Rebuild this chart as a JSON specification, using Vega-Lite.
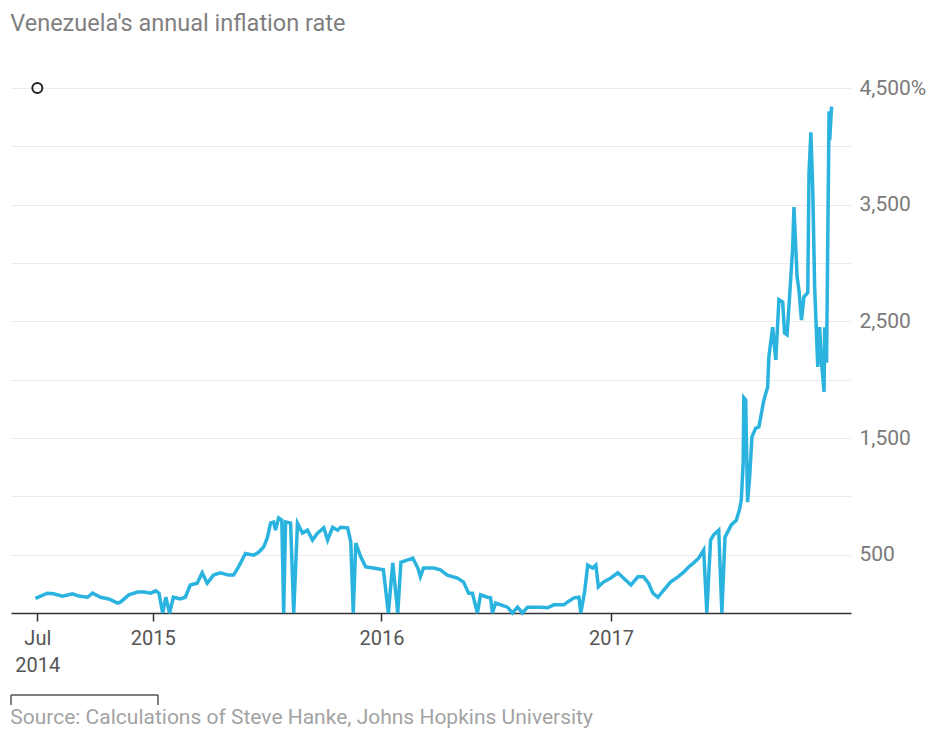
{
  "$schema": "https://vega.github.io/schema/vega-lite/v6.json",
  "background": "white",
  "padding": {"left": 10, "top": 11, "right": 5, "bottom": 0},
  "title": {
    "text": "Venezuela's annual inflation rate",
    "anchor": "start",
    "font": "Roboto",
    "fontSize": 23.5,
    "fontWeight": "normal",
    "color": "#7f7f7f",
    "offset": 42
  },
  "config": {"view": {"stroke": null}, "font": "Roboto"},
  "spacing": 19,
  "vconcat": [
    {
      "width": 840,
      "height": 525,
      "data": {
        "values": [
          {"date": "2014-06-28", "rate": 125},
          {"date": "2014-07-17", "rate": 170},
          {"date": "2014-07-27", "rate": 165},
          {"date": "2014-08-10", "rate": 145},
          {"date": "2014-08-26", "rate": 165},
          {"date": "2014-09-05", "rate": 145},
          {"date": "2014-09-19", "rate": 135},
          {"date": "2014-09-27", "rate": 170},
          {"date": "2014-10-10", "rate": 135},
          {"date": "2014-10-23", "rate": 120},
          {"date": "2014-11-06", "rate": 85},
          {"date": "2014-11-11", "rate": 95},
          {"date": "2014-11-24", "rate": 155},
          {"date": "2014-12-08", "rate": 180},
          {"date": "2014-12-18", "rate": 180},
          {"date": "2014-12-29", "rate": 170},
          {"date": "2015-01-06", "rate": 190},
          {"date": "2015-01-11", "rate": 170},
          {"date": "2015-01-17", "rate": 0},
          {"date": "2015-01-22", "rate": 135},
          {"date": "2015-01-28", "rate": 0},
          {"date": "2015-02-03", "rate": 135},
          {"date": "2015-02-14", "rate": 120},
          {"date": "2015-02-22", "rate": 135},
          {"date": "2015-03-02", "rate": 240},
          {"date": "2015-03-13", "rate": 255},
          {"date": "2015-03-21", "rate": 345},
          {"date": "2015-03-29", "rate": 255},
          {"date": "2015-04-08", "rate": 325},
          {"date": "2015-04-19", "rate": 345},
          {"date": "2015-05-02", "rate": 325},
          {"date": "2015-05-10", "rate": 325},
          {"date": "2015-05-18", "rate": 395},
          {"date": "2015-05-29", "rate": 510},
          {"date": "2015-06-11", "rate": 495},
          {"date": "2015-06-19", "rate": 520},
          {"date": "2015-06-27", "rate": 565},
          {"date": "2015-07-03", "rate": 645},
          {"date": "2015-07-08", "rate": 770},
          {"date": "2015-07-13", "rate": 780},
          {"date": "2015-07-16", "rate": 710},
          {"date": "2015-07-21", "rate": 815},
          {"date": "2015-07-26", "rate": 795},
          {"date": "2015-07-29", "rate": 0},
          {"date": "2015-08-01", "rate": 780},
          {"date": "2015-08-09", "rate": 770},
          {"date": "2015-08-14", "rate": 0},
          {"date": "2015-08-20", "rate": 770},
          {"date": "2015-08-28", "rate": 685},
          {"date": "2015-09-05", "rate": 710},
          {"date": "2015-09-13", "rate": 625},
          {"date": "2015-09-21", "rate": 685},
          {"date": "2015-10-01", "rate": 730},
          {"date": "2015-10-07", "rate": 625},
          {"date": "2015-10-15", "rate": 735},
          {"date": "2015-10-23", "rate": 710},
          {"date": "2015-10-28", "rate": 735},
          {"date": "2015-11-08", "rate": 730},
          {"date": "2015-11-13", "rate": 610},
          {"date": "2015-11-17", "rate": 0},
          {"date": "2015-11-21", "rate": 600},
          {"date": "2015-11-29", "rate": 480},
          {"date": "2015-12-07", "rate": 395},
          {"date": "2015-12-19", "rate": 385},
          {"date": "2016-01-04", "rate": 370},
          {"date": "2016-01-12", "rate": 0},
          {"date": "2016-01-19", "rate": 430},
          {"date": "2016-01-27", "rate": 0},
          {"date": "2016-02-01", "rate": 435},
          {"date": "2016-02-20", "rate": 470},
          {"date": "2016-02-28", "rate": 385},
          {"date": "2016-03-03", "rate": 310},
          {"date": "2016-03-08", "rate": 385},
          {"date": "2016-03-24", "rate": 385},
          {"date": "2016-04-04", "rate": 370},
          {"date": "2016-04-15", "rate": 325},
          {"date": "2016-05-01", "rate": 300},
          {"date": "2016-05-11", "rate": 265},
          {"date": "2016-05-19", "rate": 170},
          {"date": "2016-05-25", "rate": 170},
          {"date": "2016-06-02", "rate": 0},
          {"date": "2016-06-07", "rate": 155},
          {"date": "2016-06-18", "rate": 135},
          {"date": "2016-06-23", "rate": 130},
          {"date": "2016-06-26", "rate": 0},
          {"date": "2016-07-01", "rate": 85},
          {"date": "2016-07-20", "rate": 50},
          {"date": "2016-07-28", "rate": 0},
          {"date": "2016-08-05", "rate": 50},
          {"date": "2016-08-13", "rate": 0},
          {"date": "2016-08-21", "rate": 50},
          {"date": "2016-09-11", "rate": 50},
          {"date": "2016-09-22", "rate": 45},
          {"date": "2016-10-02", "rate": 70},
          {"date": "2016-10-18", "rate": 70},
          {"date": "2016-10-24", "rate": 95},
          {"date": "2016-11-03", "rate": 130},
          {"date": "2016-11-11", "rate": 135},
          {"date": "2016-11-14", "rate": 0},
          {"date": "2016-11-20", "rate": 180},
          {"date": "2016-11-25", "rate": 410},
          {"date": "2016-12-03", "rate": 385},
          {"date": "2016-12-08", "rate": 410},
          {"date": "2016-12-12", "rate": 225},
          {"date": "2016-12-20", "rate": 265},
          {"date": "2017-01-01", "rate": 300},
          {"date": "2017-01-12", "rate": 345},
          {"date": "2017-01-21", "rate": 300},
          {"date": "2017-02-02", "rate": 240},
          {"date": "2017-02-13", "rate": 310},
          {"date": "2017-02-22", "rate": 310},
          {"date": "2017-03-02", "rate": 255},
          {"date": "2017-03-09", "rate": 170},
          {"date": "2017-03-17", "rate": 135},
          {"date": "2017-03-26", "rate": 195},
          {"date": "2017-04-06", "rate": 265},
          {"date": "2017-04-18", "rate": 310},
          {"date": "2017-04-27", "rate": 350},
          {"date": "2017-05-05", "rate": 395},
          {"date": "2017-05-13", "rate": 430},
          {"date": "2017-05-21", "rate": 470},
          {"date": "2017-05-29", "rate": 540},
          {"date": "2017-06-03", "rate": 0},
          {"date": "2017-06-09", "rate": 625},
          {"date": "2017-06-14", "rate": 670},
          {"date": "2017-06-22", "rate": 710},
          {"date": "2017-06-27", "rate": 0},
          {"date": "2017-07-02", "rate": 650},
          {"date": "2017-07-12", "rate": 755},
          {"date": "2017-07-20", "rate": 795},
          {"date": "2017-07-25", "rate": 885},
          {"date": "2017-07-28", "rate": 970},
          {"date": "2017-07-31", "rate": 1285},
          {"date": "2017-08-01", "rate": 1845},
          {"date": "2017-08-04", "rate": 1825},
          {"date": "2017-08-07", "rate": 950},
          {"date": "2017-08-10", "rate": 1140},
          {"date": "2017-08-14", "rate": 1510},
          {"date": "2017-08-20", "rate": 1585},
          {"date": "2017-08-25", "rate": 1595},
          {"date": "2017-08-28", "rate": 1680},
          {"date": "2017-09-02", "rate": 1825},
          {"date": "2017-09-08", "rate": 1935},
          {"date": "2017-09-10", "rate": 2195},
          {"date": "2017-09-16", "rate": 2450},
          {"date": "2017-09-21", "rate": 2170},
          {"date": "2017-09-26", "rate": 2685},
          {"date": "2017-10-02", "rate": 2665},
          {"date": "2017-10-05", "rate": 2400},
          {"date": "2017-10-09", "rate": 2385},
          {"date": "2017-10-12", "rate": 2625},
          {"date": "2017-10-18", "rate": 3135},
          {"date": "2017-10-20", "rate": 3480},
          {"date": "2017-10-25", "rate": 2880},
          {"date": "2017-10-28", "rate": 2770},
          {"date": "2017-11-01", "rate": 2510},
          {"date": "2017-11-05", "rate": 2710},
          {"date": "2017-11-11", "rate": 2745},
          {"date": "2017-11-13", "rate": 3770},
          {"date": "2017-11-16", "rate": 4120},
          {"date": "2017-11-19", "rate": 3625},
          {"date": "2017-11-22", "rate": 2795},
          {"date": "2017-11-27", "rate": 2110},
          {"date": "2017-11-30", "rate": 2450},
          {"date": "2017-12-03", "rate": 2145},
          {"date": "2017-12-07", "rate": 1895},
          {"date": "2017-12-08", "rate": 2450},
          {"date": "2017-12-11", "rate": 2145},
          {"date": "2017-12-15", "rate": 4300},
          {"date": "2017-12-16", "rate": 4050},
          {"date": "2017-12-19", "rate": 4340}
        ]
      },
      "layer": [
        {
          "mark": {"type": "line", "color": "#2bb3e0", "strokeWidth": 3.5},
          "encoding": {
            "x": {
              "field": "date",
              "type": "temporal",
              "scale": {
                "domain": [
                  {"year": 2014, "month": 5, "date": 20},
                  {"year": 2018, "month": 1, "date": 19}
                ]
              },
              "axis": {
                "title": null,
                "grid": false,
                "values": [
                  {"year": 2014, "month": 7, "date": 1},
                  {"year": 2015, "month": 1, "date": 1},
                  {"year": 2016, "month": 1, "date": 1},
                  {"year": 2017, "month": 1, "date": 1}
                ],
                "labelExpr": "month(datum.value) == 6 ? ['Jul', '2014'] : timeFormat(datum.value, '%Y')",
                "domainColor": "#333333",
                "domainWidth": 1.5,
                "tickColor": "#333333",
                "tickWidth": 1.5,
                "tickSize": 8,
                "labelFont": "Roboto",
                "labelFontSize": 20,
                "labelColor": "#555555",
                "labelPadding": 7,
                "labelLineHeight": 27,
                "labelFlush": false,
                "labelOverlap": false
              }
            },
            "y": {
              "field": "rate",
              "type": "quantitative",
              "scale": {"domain": [0, 4500], "nice": false},
              "axis": {
                "orient": "right",
                "title": null,
                "values": [0, 500, 1000, 1500, 2000, 2500, 3000, 3500, 4000, 4500],
                "labelExpr": "datum.value == 4500 ? '4,500%' : (datum.value % 1000 == 500 ? format(datum.value, ',') : '')",
                "domain": false,
                "ticks": false,
                "gridColor": "#ebebeb",
                "gridWidth": 1,
                "labelFont": "Roboto",
                "labelFontSize": 21,
                "labelColor": "#7a7a7a",
                "labelPadding": 8,
                "labelOverlap": false
              }
            }
          }
        },
        {
          "data": {"values": [{"date": "2014-07-01", "rate": 4500}]},
          "mark": {"type": "point", "shape": "circle", "size": 100, "filled": false, "stroke": "#222222", "strokeWidth": 2, "opacity": 1},
          "encoding": {
            "x": {"field": "date", "type": "temporal"},
            "y": {"field": "rate", "type": "quantitative"}
          }
        }
      ]
    },
    {
      "width": 147,
      "height": 10,
      "data": {
        "values": [
          {"x": 0, "x2": 1, "y": 1, "y2": 1},
          {"x": 0, "x2": 0, "y": 0, "y2": 1},
          {"x": 1, "x2": 1, "y": 0, "y2": 1}
        ]
      },
      "mark": {"type": "rule", "color": "#555555", "strokeWidth": 1.5},
      "encoding": {
        "x": {"field": "x", "type": "quantitative", "scale": {"domain": [0, 1]}, "axis": null},
        "x2": {"field": "x2"},
        "y": {"field": "y", "type": "quantitative", "scale": {"domain": [0, 1]}, "axis": null},
        "y2": {"field": "y2"}
      },
      "title": {
        "text": "Source: Calculations of Steve Hanke, Johns Hopkins University",
        "orient": "bottom",
        "anchor": "start",
        "font": "Roboto",
        "fontSize": 21,
        "fontWeight": "normal",
        "color": "#a3a3a3",
        "offset": 1
      }
    }
  ]
}
